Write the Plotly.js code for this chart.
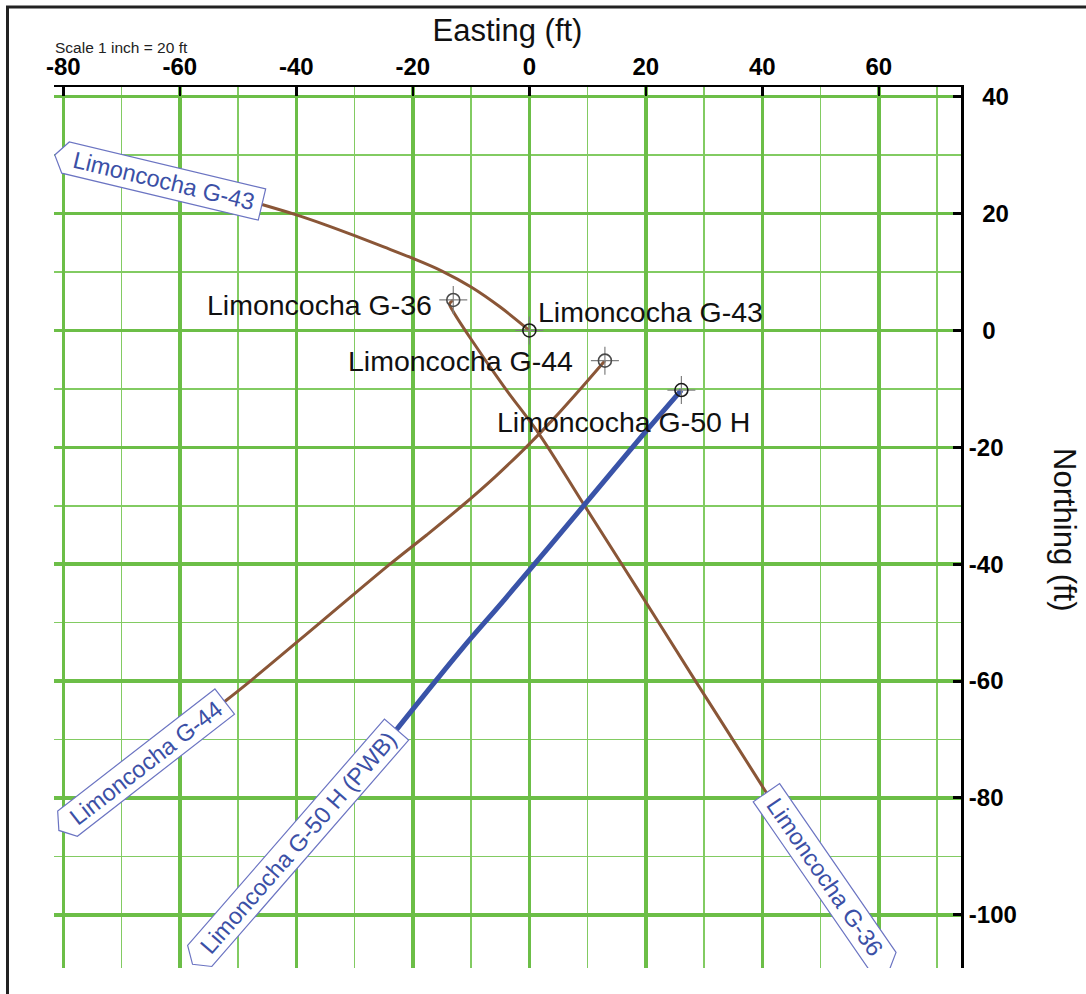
<!DOCTYPE html>
<html>
<head>
<meta charset="utf-8">
<script src="https://cdn.plot.ly/plotly-3.0.1.min.js"></script>
<style>
  html, body { margin: 0; padding: 0; background: #ffffff; }
  #chart { width: 1086px; height: 994px; }
</style>
</head>
<body>
<div id="chart"></div>
<script>
// ---- Well plan view: Easting / Northing in feet, relative to G-43 surface ----

const wellNames = ['Limoncocha G-36', 'Limoncocha G-43', 'Limoncocha G-44', 'Limoncocha G-50 H'];
const endLabels = ['Limoncocha G-36', 'Limoncocha G-43', 'Limoncocha G-44', 'Limoncocha G-50 H (PWB)'];

// surface (wellhead) locations
const surfaceEasting  = [-13.06, 0, 12.97, 26.1];
const surfaceNorthing = [5.22, 0, -5.17, -10.2];

// horizontal projections of the well paths
const g36Easting  = [-13.06, -13.7, -13.1, -10.2, -4.3, 1.8, 9.3, 18.8, 28.4, 34.6, 40.7];
const g36Northing = [5.22, 4.5, 3.3, -1.2, -9.7, -17.9, -29.7, -44.6, -59.8, -69.5, -79.1];

const g43Easting  = [0, -5, -10, -15, -20, -25, -30, -35, -40, -45.9];
const g43Northing = [0, 4.0, 7.43, 10.16, 12.33, 14.3, 16.23, 18.08, 19.78, 21.55];

const g44Easting  = [12.97, 8.77, 4.27, -0.58, -5.83, -11.53, -17.63, -23.93, -35.9, -47.9, -52.3];
const g44Northing = [-5.17, -10, -15, -20, -25, -30, -35, -40, -50, -60, -63.5];

const g50Easting  = [26.1, 19.2, 9.9, -4.3, -11.5, -22.8];
const g50Northing = [-10.2, -18.2, -29.3, -46.1, -54.4, -68.3];

// axis ticks
const xTickVals = [-80, -60, -40, -20, 0, 20, 40, 60];
const xTickText = ['-80', '-60', '-40', '-20', '0', '20', '40', '60'];
const yTickVals = [40, 20, 0, -20, -40, -60, -80, -100];
const yTickText = ['\u200740', '\u200720', '\u20070', '-20', '-40', '-60', '-80', '-100'];

// ---- styling ----
const FONT = 'Liberation Sans, Arial, Helvetica, sans-serif';
const BROWN = '#8a5637';
const BLUE = '#3953a8';
const LABEL_BLUE = '#3b50a6';
const BOX_EDGE = '#6b74c2';
const GRID_MAJOR = '#6cbe47';
const GRID_MINOR = '#82cb62';

const paths = [
  {e: g36Easting, n: g36Northing, color: BROWN, width: 3},
  {e: g43Easting, n: g43Northing, color: BROWN, width: 3},
  {e: g44Easting, n: g44Northing, color: BROWN, width: 3},
  {e: g50Easting, n: g50Northing, color: BLUE, width: 5}
];

// end-of-path label boxes: direction the box runs away from the path end (screen degrees)
const boxStyle = [
  {angle: 55.4, length: 205},
  {angle: 193.45, length: 202},
  {angle: 142.15, length: 199},
  {angle: 131, length: 300}
];
const BOX_HALF = 16, BOX_TIP = 11;

// surface label placement (pixels, relative to wellhead)
const surfaceLabelStyle = [
  {xanchor: 'right', xshift: -19, yshift: -5},
  {xanchor: 'left', xshift: 7, yshift: 18},
  {xanchor: 'right', xshift: -30, yshift: 0},
  {xanchor: 'center', xshift: -58, yshift: -32}
];

const traces = paths.map((p, i) => ({
  type: 'scatter', mode: 'lines',
  x: p.e, y: p.n, name: wellNames[i],
  line: {color: p.color, width: p.width, shape: 'spline', smoothing: 1},
  hoverinfo: 'skip', showlegend: false
}));

// wellhead symbols: crosshair plus ring
traces.push({
  type: 'scatter', mode: 'markers',
  x: surfaceEasting, y: surfaceNorthing,
  marker: {symbol: 'cross-thin-open', size: 20, color: '#808080', line: {width: 1.2}},
  hoverinfo: 'skip', showlegend: false
});
traces.push({
  type: 'scatter', mode: 'markers',
  x: surfaceEasting, y: surfaceNorthing,
  marker: {symbol: 'circle-open', size: 13,
           color: ['#4a4a4a', '#1a1a1a', '#4a4a4a', '#1a1a1a'], line: {width: 1.6}},
  hoverinfo: 'skip', showlegend: false
});

function boxPath(angleDeg, len, half, tip) {
  const r = angleDeg * Math.PI / 180;
  const ux = Math.cos(r), uy = Math.sin(r);
  const nx = -uy, ny = ux;
  const pts = [
    [half * nx, half * ny],
    [half * nx + len * ux, half * ny + len * uy],
    [(len + tip) * ux, (len + tip) * uy],
    [-half * nx + len * ux, -half * ny + len * uy],
    [-half * nx, -half * ny]
  ];
  // pixel-sized shape paths measure y upward
  return 'M' + pts.map(p => p[0].toFixed(1) + ',' + (-p[1]).toFixed(1)).join(' L') + ' Z';
}

const shapes = [];
const annotations = [];

paths.forEach((p, i) => {
  const endE = p.e[p.e.length - 1];
  const endN = p.n[p.n.length - 1];
  const st = boxStyle[i];
  shapes.push({
    type: 'path', layer: 'above',
    xref: 'x', yref: 'y', xsizemode: 'pixel', ysizemode: 'pixel',
    xanchor: endE, yanchor: endN,
    path: boxPath(st.angle, st.length, BOX_HALF, BOX_TIP),
    fillcolor: '#ffffff', line: {color: BOX_EDGE, width: 1.2}
  });
  const r = st.angle * Math.PI / 180;
  const readAngle = Math.cos(r) >= 0 ? st.angle : st.angle - 180;
  annotations.push({
    x: endE, y: endN, xref: 'x', yref: 'y', showarrow: false,
    xshift: (st.length / 2) * Math.cos(r),
    yshift: -(st.length / 2) * Math.sin(r),
    textangle: readAngle,
    text: endLabels[i],
    font: {family: FONT, size: 23.5, color: LABEL_BLUE},
    xanchor: 'center', yanchor: 'middle'
  });
});

surfaceEasting.forEach((e, i) => {
  const s = surfaceLabelStyle[i];
  annotations.push({
    x: e, y: surfaceNorthing[i], xref: 'x', yref: 'y', showarrow: false,
    text: wellNames[i], xanchor: s.xanchor, yanchor: 'middle',
    xshift: s.xshift, yshift: s.yshift,
    font: {family: FONT, size: 28.5, color: '#111111'}
  });
});

// plot geometry in pixels
const W = 1086, H = 994;
const M = {l: 54, r: 125, t: 87, b: 26};
const PW = W - M.l - M.r, PH = H - M.t - M.b;
const px2paperX = px => (px - M.l) / PW;
const px2paperY = py => (H - M.b - py) / PH;

annotations.push({
  xref: 'paper', yref: 'paper', x: px2paperX(1065), y: px2paperY(530),
  text: 'Northing (ft)', textangle: 90, showarrow: false,
  xanchor: 'center', yanchor: 'middle',
  font: {family: FONT, size: 31, color: '#111111'}
});
annotations.push({
  xref: 'paper', yref: 'paper', x: px2paperX(53), y: px2paperY(47),
  text: 'Scale 1 inch = 20 ft', showarrow: false,
  xanchor: 'left', yanchor: 'middle',
  font: {family: FONT, size: 15.5, color: '#222222'}
});

// page frame
shapes.push({
  type: 'rect', xref: 'paper', yref: 'paper', layer: 'above',
  x0: px2paperX(7.5), x1: px2paperX(1120), y0: px2paperY(1030), y1: px2paperY(7),
  line: {color: '#222222', width: 3}, fillcolor: 'rgba(0,0,0,0)'
});

const layout = {
  width: W, height: H,
  margin: {l: M.l, r: M.r, t: M.t, b: M.b, pad: 0},
  paper_bgcolor: '#ffffff', plot_bgcolor: '#ffffff',
  font: {family: FONT, color: '#111111'},
  showlegend: false, hovermode: false,
  xaxis: {
    side: 'top', range: [-81.6, 74.1],
    tickmode: 'array', tickvals: xTickVals, ticktext: xTickText,
    ticks: 'inside', ticklen: 9, tickwidth: 2.5, tickcolor: '#000000',
    tickfont: {family: FONT, size: 24, color: '#000000', weight: 'bold'},
    showline: true, linecolor: '#000000', linewidth: 2.5,
    showgrid: true, gridcolor: GRID_MAJOR, gridwidth: 3.5, zeroline: false,
    minor: {tickmode: 'linear', tick0: 0, dtick: 10, showgrid: true, gridcolor: GRID_MINOR, gridwidth: 1.5, ticks: ''},
    title: {text: 'Easting (ft)', font: {family: FONT, size: 31, color: '#111111'}, standoff: 2}
  },
  yaxis: {
    side: 'right', range: [-109.1, 41.66],
    tickmode: 'array', tickvals: yTickVals, ticktext: yTickText,
    ticks: 'inside', ticklen: 8, tickwidth: 3, tickcolor: '#000000',
    tickfont: {family: FONT, size: 24, color: '#000000', weight: 'bold'},
    showline: true, linecolor: '#000000', linewidth: 3,
    showgrid: true, gridcolor: GRID_MAJOR, gridwidth: 3.5, zeroline: false,
    minor: {tickmode: 'linear', tick0: 0, dtick: 10, showgrid: true, gridcolor: GRID_MINOR, gridwidth: 1.5, ticks: ''}
  },
  shapes: shapes,
  annotations: annotations
};

Plotly.newPlot('chart', traces, layout, {displayModeBar: false, staticPlot: true});
</script>
</body>
</html>
